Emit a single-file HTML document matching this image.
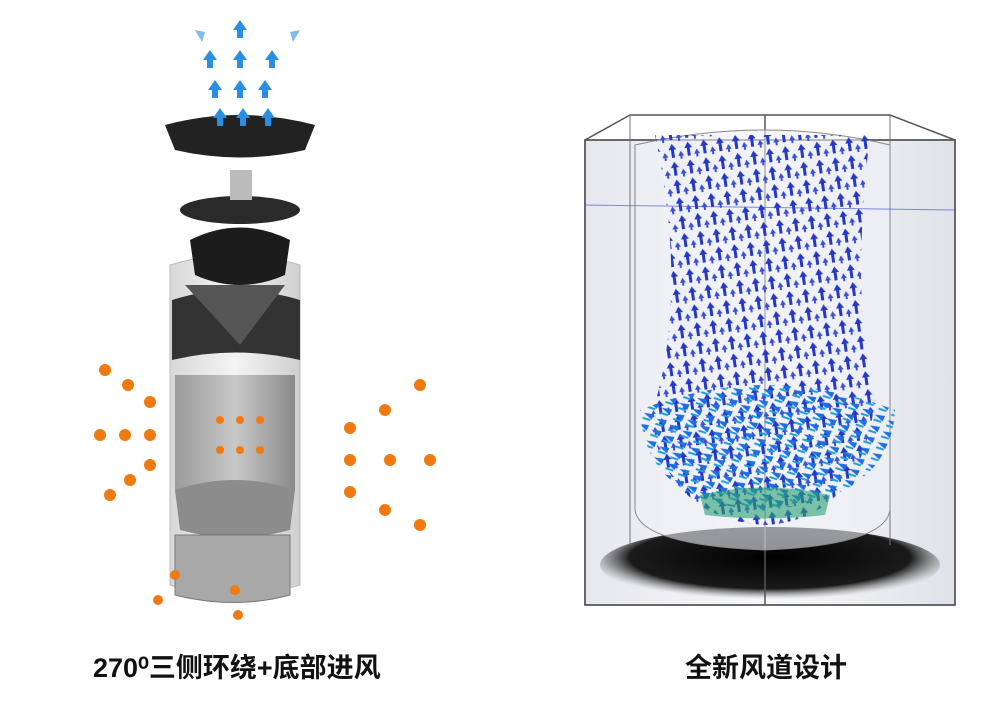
<!DOCTYPE html>
<html><head><meta charset="utf-8"><style>
body{margin:0;background:#fff;width:1000px;height:712px;overflow:hidden;position:relative;font-family:"Liberation Sans","Noto Sans CJK SC",sans-serif}
.t{position:absolute;top:646px;font-size:27px;font-weight:bold;color:#111;white-space:nowrap}
</style></head><body>
<svg width="1000" height="712" style="position:absolute;left:0;top:0">
<defs>
<linearGradient id="body" x1="0" x2="1"><stop offset="0" stop-color="#d8d8d8"/><stop offset=".5" stop-color="#f4f4f4"/><stop offset="1" stop-color="#cfcfcf"/></linearGradient>
<linearGradient id="inner" x1="0" x2="1"><stop offset="0" stop-color="#9a9a9a"/><stop offset=".5" stop-color="#c8c8c8"/><stop offset="1" stop-color="#8a8a8a"/></linearGradient>
<radialGradient id="sh" cx=".5" cy=".4" r=".55"><stop offset="0" stop-color="#000"/><stop offset=".75" stop-color="#1a1a1a"/><stop offset="1" stop-color="#888" stop-opacity="0"/></radialGradient>
<linearGradient id="glass" x1="0" x2="1"><stop offset="0" stop-color="#e6e8ee"/><stop offset=".5" stop-color="#f7f8fb"/><stop offset="1" stop-color="#dfe2e8"/></linearGradient>
<pattern id="arr" width="16" height="18" patternUnits="userSpaceOnUse" patternTransform="rotate(-8)">
<path d="M5 2 l4 6 h-2.5 v8 h-3 v-8 h-2.5z" fill="#2538c8"/>
<path d="M13 10 l3 5 h-2 v3 h-2 v-3 h-2z" fill="#3a4fd8"/>
</pattern>
<pattern id="arr2" width="14" height="12" patternUnits="userSpaceOnUse" patternTransform="rotate(25)">
<path d="M2 6 l10 -3 v6z" fill="#1f6fe0"/>
<path d="M3 11 l8 -1" stroke="#19a0d8" stroke-width="2"/>
</pattern>
</defs>
<!-- LEFT purifier -->
<path d="M170 265 Q235 245 300 265 L300 585 Q235 605 170 585 Z" fill="url(#body)" stroke="#bbb"/>
<path d="M175 375 L295 375 L295 490 L175 490 Z" fill="url(#inner)"/>
<path d="M175 490 Q235 470 295 490 L290 530 Q235 545 180 530 Z" fill="#8c8c8c"/>
<path d="M175 535 L290 535 L290 595 Q235 610 175 595 Z" fill="#a8a8a8" stroke="#777"/>
<path d="M172 300 Q235 280 300 300 L300 360 Q235 345 172 360 Z" fill="#333"/>
<path d="M185 285 L285 285 L240 345 Z" fill="#555"/>
<path d="M190 240 Q240 215 290 240 L285 275 Q240 295 195 275 Z" fill="#1c1c1c"/>
<ellipse cx="240" cy="210" rx="60" ry="14" fill="#2a2a2a"/>
<rect x="230" y="170" width="22" height="30" fill="#bbb"/>
<path d="M165 125 Q240 105 315 125 L305 150 Q240 165 175 150 Z" fill="#222"/>
<g fill="#2a8fe0">
<path d="M240 20 l7 10 h-4 v8 h-6 v-8 h-4z"/><path d="M210 50 l7 10 h-4 v8 h-6 v-8 h-4z"/><path d="M240 50 l7 10 h-4 v8 h-6 v-8 h-4z"/><path d="M272 50 l7 10 h-4 v8 h-6 v-8 h-4z"/>
<path d="M215 80 l7 10 h-4 v8 h-6 v-8 h-4z"/><path d="M240 80 l7 10 h-4 v8 h-6 v-8 h-4z"/><path d="M265 80 l7 10 h-4 v8 h-6 v-8 h-4z"/>
<path d="M220 108 l7 10 h-4 v8 h-6 v-8 h-4z"/><path d="M243 108 l7 10 h-4 v8 h-6 v-8 h-4z"/><path d="M268 108 l7 10 h-4 v8 h-6 v-8 h-4z"/>
<path d="M195 30 l10 2 -3 10z" opacity=".6"/><path d="M300 30 l-10 2 3 10z" opacity=".6"/>
</g>
<g fill="#f07a10">
<circle cx="100" cy="435" r="6"/><circle cx="125" cy="435" r="6"/><circle cx="150" cy="435" r="6"/>
<circle cx="105" cy="370" r="6"/><circle cx="128" cy="385" r="6"/><circle cx="150" cy="402" r="6"/>
<circle cx="110" cy="495" r="6"/><circle cx="130" cy="480" r="6"/><circle cx="150" cy="465" r="6"/>
<circle cx="420" cy="385" r="6"/><circle cx="385" cy="410" r="6"/><circle cx="350" cy="428" r="6"/>
<circle cx="430" cy="460" r="6"/><circle cx="390" cy="460" r="6"/><circle cx="350" cy="460" r="6"/>
<circle cx="420" cy="525" r="6"/><circle cx="385" cy="510" r="6"/><circle cx="350" cy="492" r="6"/>
<circle cx="158" cy="600" r="5"/><circle cx="175" cy="575" r="5"/><circle cx="238" cy="615" r="5"/><circle cx="235" cy="590" r="5"/>
<circle cx="220" cy="420" r="4"/><circle cx="240" cy="420" r="4"/><circle cx="260" cy="420" r="4"/><circle cx="220" cy="450" r="4"/><circle cx="240" cy="450" r="4"/><circle cx="260" cy="450" r="4"/>
</g>
<!-- RIGHT -->
<rect x="585" y="140" width="370" height="465" fill="url(#glass)" stroke="#555" stroke-width="1.5"/>
<ellipse cx="770" cy="565" rx="170" ry="38" fill="url(#sh)"/>
<rect x="585" y="140" width="370" height="465" fill="none" stroke="#555" stroke-width="1.5"/>
<path d="M585 140 L630 115 L890 115 L955 140" fill="none" stroke="#555" stroke-width="1.5"/>
<line x1="765" y1="115" x2="765" y2="605" stroke="#555" stroke-width="1.5"/>
<line x1="630" y1="115" x2="630" y2="545" stroke="#777"/>
<line x1="890" y1="115" x2="890" y2="545" stroke="#777"/>
<path d="M635 145 Q765 115 890 145 L890 510 Q885 545 765 550 Q640 545 635 510 Z" fill="#eef0f5" fill-opacity=".6" stroke="#888"/>
<path d="M655 135 L870 135 Q850 300 875 400 Q860 520 765 525 Q670 520 650 420 Q690 300 655 135 Z" fill="url(#arr)"/>
<path d="M640 410 Q765 360 895 410 Q890 500 765 510 Q645 505 640 410 Z" fill="url(#arr2)"/>
<path d="M700 495 Q765 480 830 495 L825 515 Q765 522 705 515 Z" fill="#2aa070" opacity=".6"/>
<line x1="585" y1="205" x2="955" y2="210" stroke="#3344dd" stroke-width="1" opacity=".6"/>
</svg>
<div class="t" style="left:93px">270⁰三侧环绕+底部进风</div>
<div class="t" style="left:685px">全新风道设计</div>
</body></html>
